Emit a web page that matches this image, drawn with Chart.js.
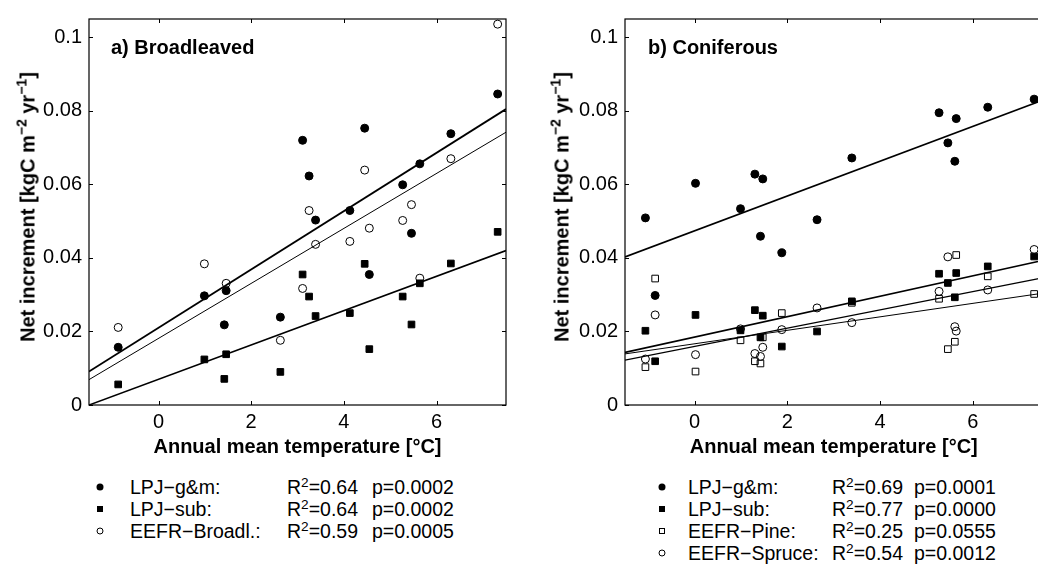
<!DOCTYPE html>
<html>
<head>
<meta charset="utf-8">
<script src="https://cdn.jsdelivr.net/npm/chart.js@4.4.0/dist/chart.umd.min.js"></script>
<style>
  html, body { margin: 0; padding: 0; background: #fff; overflow: hidden; }
  #page { position: relative; width: 1038px; height: 568px; overflow: hidden; font-family: "Liberation Sans", Arial, sans-serif; color: #000; }
  canvas { position: absolute; top: 0; }
  .ytitle { position: absolute; font-weight: bold; font-size: 20px; white-space: nowrap; transform: translate(-50%, -50%) rotate(-90deg); }
  .panel { position: absolute; font-weight: bold; font-size: 20px; white-space: nowrap; line-height: 1; }
  sup { font-size: 0.7em; line-height: 0; vertical-align: 0.55em; }
  .legend { position: absolute; font-size: 19.5px; line-height: 22px; }
  .row { position: relative; height: 22px; white-space: nowrap; }
  .row span { position: absolute; top: 0; }
  .mk { position: absolute; top: 11px; transform: translate(-50%, -50%); box-sizing: border-box; }
  .fc { width: 7px; height: 7px; border-radius: 50%; background: #000; }
  .fs { width: 6px; height: 6px; background: #000; }
  .os { width: 6px; height: 6px; border: 1px solid #000; }
  .oc { width: 7px; height: 7px; border-radius: 50%; border: 1px solid #000; }
</style>
</head>
<body>
<div id="page">
  <canvas id="broad" width="519" height="470" style="left:0"></canvas>
  <canvas id="conif" width="530" height="470" style="left:519px"></canvas>

  <div class="ytitle" style="left:28px; top:207px">Net increment [kgC m<sup>−2</sup> yr<sup>−1</sup>]</div>
  <div class="ytitle" style="left:562px; top:207px">Net increment [kgC m<sup>−2</sup> yr<sup>−1</sup>]</div>

  <div class="panel" style="left:111px; top:37px">a) Broadleaved</div>
  <div class="panel" style="left:648px; top:37px">b) Coniferous</div>

  <div class="legend" id="legA" style="left:0; top:476px; width:519px"></div>
  <div class="legend" id="legB" style="left:519px; top:476px; width:519px"></div>
</div>

<script>
// axis ticks
const xTickValues = [0, 2, 4, 6];
const xTickLabels = ['0', '2', '4', '6'];
const yTickValues = [0, 0.02, 0.04, 0.06, 0.08, 0.1];
const yTickLabels = ['0', '0.02', '0.04', '0.06', '0.08', '0.1'];

// a) Broadleaved - site temperatures and increments
const broadT    = [-0.87, 0.99, 1.42, 1.46, 2.63, 3.11, 3.25, 3.39, 4.13, 4.45, 4.55, 5.27, 5.46, 5.64, 6.31, 7.32];
const broadGM   = [0.0157, 0.0297, 0.0218, 0.0311, 0.0239, 0.0720, 0.0623, 0.0503, 0.0529, 0.0753, 0.0355, 0.0599, 0.0467, 0.0656, 0.0738, 0.0846];
const broadSub  = [0.0056, 0.0124, 0.0071, 0.0138, 0.0090, 0.0355, 0.0295, 0.0242, 0.0250, 0.0384, 0.0152, 0.0295, 0.0219, 0.0331, 0.0385, 0.0471];
const broadEEFR = [0.0211, 0.0384, null, 0.0331, 0.0176, 0.0317, 0.0529, 0.0437, 0.0445, 0.0639, 0.0481, 0.0502, 0.0545, 0.0345, 0.0670, 0.1036];

// b) Coniferous
const conT      = [-1.06, -0.85, 0.02, 0.99, 1.30, 1.42, 1.47, 1.88, 2.64, 3.39, 5.27, 5.46, 5.61, 5.64, 6.32, 7.32];
const conGM     = [0.0509, 0.0298, 0.0603, 0.0534, 0.0628, 0.0459, 0.0615, 0.0414, 0.0504, 0.0672, 0.0795, 0.0713, 0.0663, 0.0779, 0.0810, 0.0832];
const conSub    = [0.0202, 0.0119, 0.0245, 0.0203, 0.0258, 0.0184, 0.0243, 0.0159, 0.0200, 0.0282, 0.0357, 0.0332, 0.0293, 0.0359, 0.0377, 0.0404];
const conPine   = [0.0103, 0.0344, 0.0091, 0.0176, 0.0119, 0.0113, 0.0184, 0.0250, null, 0.0278, 0.0289, 0.0152, 0.0172, 0.0408, 0.0350, 0.0302];
const conSpruce = [0.0125, 0.0245, 0.0137, 0.0207, 0.0140, 0.0132, 0.0157, 0.0205, 0.0264, 0.0224, 0.0309, 0.0403, 0.0213, 0.0201, 0.0313, 0.0423];

// regression lines, read at both ends of the x range
const fitX         = [-1.5, 7.5];
const broadFitGM   = [0.0091, 0.0805];
const broadFitEEFR = [0.0069, 0.0742];
const broadFitSub  = [0.0000, 0.0420];
const conFitGM     = [0.0403, 0.0829];
const conFitSub    = [0.0143, 0.0393];
const conFitSpruce = [0.0122, 0.0346];
const conFitPine   = [0.0139, 0.0304];

// legend text
const legA = [
  ['fc', 'LPJ−g&m:', '0.64', '0.0002'],
  ['fs', 'LPJ−sub:', '0.64', '0.0002'],
  ['oc', 'EEFR−Broadl.:', '0.59', '0.0005']
];
const legB = [
  ['fc', 'LPJ−g&m:', '0.69', '0.0001'],
  ['fs', 'LPJ−sub:', '0.77', '0.0000'],
  ['os', 'EEFR−Pine:', '0.25', '0.0555'],
  ['oc', 'EEFR−Spruce:', '0.54', '0.0012']
];

const FONT = "'Liberation Sans', Arial, sans-serif";

function pts(xs, ys) {
  const out = [];
  xs.forEach((x, i) => { if (ys[i] != null) out.push({ x: x, y: ys[i] }); });
  return out;
}

function scatter(data, style, filled, r) {
  return {
    type: 'scatter', data: data, pointStyle: style, pointRadius: r, pointHoverRadius: r,
    backgroundColor: filled ? '#000' : 'rgba(0,0,0,0)', borderColor: '#000', borderWidth: 1
  };
}

function fit(ys, w) {
  return {
    type: 'line', data: pts(fitX, ys), borderColor: '#000', borderWidth: w,
    pointRadius: 0, fill: false, tension: 0
  };
}

// box with inward ticks on all four sides
const frame = {
  id: 'frame',
  afterDatasetsDraw(chart) {
    const { ctx, chartArea: a, scales: { x, y } } = chart;
    ctx.save();
    ctx.strokeStyle = '#000';
    ctx.lineWidth = 1.2;
    ctx.strokeRect(a.left, a.top, a.right - a.left, a.bottom - a.top);
    ctx.beginPath();
    x.ticks.forEach(t => {
      const px = Math.round(x.getPixelForValue(t.value)) + 0.5;
      ctx.moveTo(px, a.bottom); ctx.lineTo(px, a.bottom - 4);
      ctx.moveTo(px, a.top); ctx.lineTo(px, a.top + 4);
    });
    y.ticks.forEach(t => {
      const py = Math.round(y.getPixelForValue(t.value)) + 0.5;
      ctx.moveTo(a.left, py); ctx.lineTo(a.left + 4, py);
      ctx.moveTo(a.right, py); ctx.lineTo(a.right - 4, py);
    });
    ctx.lineWidth = 1;
    ctx.stroke();
    ctx.restore();
  }
};

function makeChart(id, datasets, yWidth, padRight) {
  new Chart(document.getElementById(id), {
    data: { datasets: datasets },
    options: {
      responsive: false,
      animation: false,
      devicePixelRatio: 1,
      layout: { padding: { top: 8, right: padRight, left: 0, bottom: 0 } },
      plugins: { legend: { display: false }, tooltip: { enabled: false } },
      scales: {
        x: {
          type: 'linear', min: -1.5, max: 7.5,
          grid: { display: false, drawTicks: false }, border: { display: false },
          afterBuildTicks: s => { s.ticks = xTickValues.map(v => ({ value: v })); },
          afterFit: s => { s.height = 65; },
          ticks: { color: '#000', padding: 5, maxRotation: 0, font: { family: FONT, size: 20 },
                   callback: (v, i) => xTickLabels[i] },
          title: { display: true, text: 'Annual mean temperature [°C]', color: '#000',
                   font: { family: FONT, size: 20, weight: 'bold' }, padding: { top: 0, bottom: 11 } }
        },
        y: {
          type: 'linear', min: 0, max: 0.105,
          grid: { display: false, drawTicks: false }, border: { display: false },
          afterBuildTicks: s => { s.ticks = yTickValues.map(v => ({ value: v })); },
          afterFit: s => { s.width = yWidth; },
          ticks: { color: '#000', padding: 7, font: { family: FONT, size: 20 },
                   callback: (v, i) => yTickLabels[i] }
        }
      }
    },
    plugins: [frame]
  });
}

makeChart('broad', [
  fit(broadFitGM, 1.8),
  fit(broadFitEEFR, 1.0),
  fit(broadFitSub, 1.6),
  scatter(pts(broadT, broadGM), 'circle', true, 4),
  scatter(pts(broadT, broadSub), 'rect', true, 4.7),
  scatter(pts(broadT, broadEEFR), 'circle', false, 4)
], 89, 13);

makeChart('conif', [
  fit(conFitGM, 1.8),
  fit(conFitSub, 1.6),
  fit(conFitSpruce, 1.3),
  fit(conFitPine, 1.0),
  scatter(pts(conT, conGM), 'circle', true, 4),
  scatter(pts(conT, conSub), 'rect', true, 4.7),
  scatter(pts(conT, conPine), 'rect', false, 4.7),
  scatter(pts(conT, conSpruce), 'circle', false, 4)
], 106, 6.5);

function legend(id, rows, mx, tx, rx, px) {
  const box = document.getElementById(id);
  rows.forEach(r => {
    const row = document.createElement('div');
    row.className = 'row';
    row.innerHTML =
      '<div class="mk ' + r[0] + '" style="left:' + mx + 'px"></div>' +
      '<span style="left:' + tx + 'px">' + r[1].replace('&', '&amp;') + '</span>' +
      '<span style="left:' + rx + 'px">R<sup>2</sup>=' + r[2] + '</span>' +
      '<span style="left:' + px + 'px">p=' + r[3] + '</span>';
    box.appendChild(row);
  });
}

legend('legA', legA, 100, 130, 287, 372);
legend('legB', legB, 143, 169, 313, 395);
</script>
</body>
</html>
